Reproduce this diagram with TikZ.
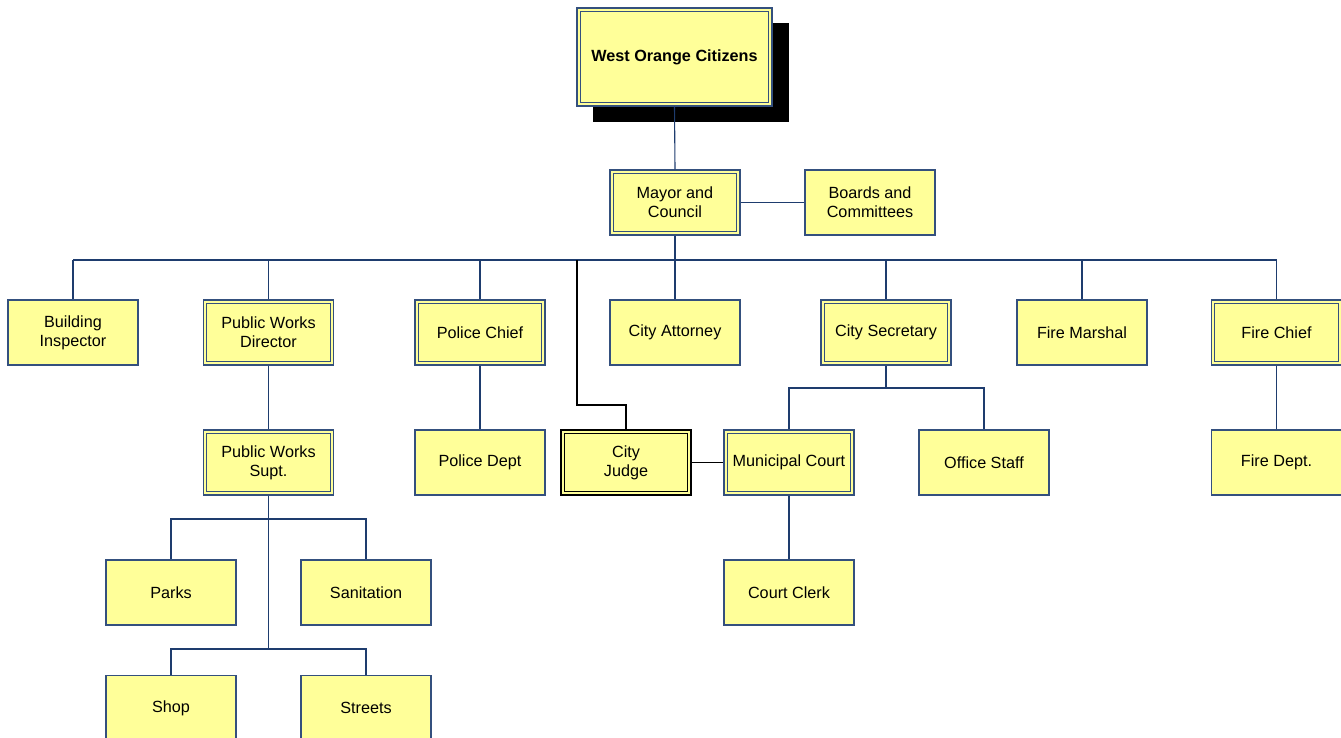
\documentclass[tikz,border=0pt]{standalone}
\usepackage{fontspec}
\setmainfont{Liberation Sans}
\begin{document}
\begin{tikzpicture}[x=1pt,y=-1pt,
  box/.style={draw=boxc, fill=boxf, line width=1.1pt, minimum width=130pt, minimum height=65pt,
    inner sep=0pt, align=center, font=\fontsize{16.2}{19}\selectfont, text=black},
  dbl/.style={box, draw=#1, path picture={
    \draw[#1, line width=1pt]
      ([shift={(3.2pt,-3.2pt)}]path picture bounding box.north west) rectangle
      ([shift={(-3.2pt,3.2pt)}]path picture bounding box.south east);}},
  dbl/.default=boxc,
  conn/.style={draw=linec, line width=1.1pt},
  bus/.style={draw=linec, line width=1.6pt},
  jconn/.style={draw=black, line width=1.1pt}]
\definecolor{boxf}{HTML}{FFFF99}
\definecolor{boxc}{HTML}{34507E}
\definecolor{linec}{HTML}{1E3C6E}
\useasboundingbox (0,0) rectangle (1341,738);
\clip (0,0) rectangle (1341,738);

% shadow and top box
\fill[black] (593,23) rectangle (789,122);
\node[dbl, minimum width=195pt, minimum height=98pt, font=\fontsize{16.2}{19}\selectfont\bfseries] (cit) at (674.5,57) {West Orange Citizens};

% level 1
\node[dbl] (mayor) at (675,202.5) {Mayor and\\Council};
\node[box] (boards) at (870,202.5) {Boards and\\Committees};

% level 2
\node[box] (bi)   at (73,332.5)   {Building\\Inspector};
\node[dbl] (pwd)  at (268.5,332.5) {Public Works\\Director};
\node[dbl] (pc)   at (480,332.5)  {Police Chief};
\node[box] (ca)   at (675,332.5)  {City Attorney};
\node[dbl] (cs)   at (886,332.5)  {City Secretary};
\node[box] (fm)   at (1082,332.5) {Fire Marshal};
\node[dbl] (fc)   at (1276.5,332.5) {Fire Chief};

% level 3
\node[dbl] (pws)  at (268.5,462.5) {Public Works\\Supt.};
\node[box] (pd)   at (480,462.5)  {Police Dept};
\node[dbl=black] (cj) at (626,462.5) {City\\Judge};
\node[dbl] (mc)   at (789,462.5)  {Municipal Court};
\node[box] (os)   at (984,462.5)  {Office Staff};
\node[box] (fd)   at (1276.5,462.5) {Fire Dept.};

% level 4
\node[box] (parks) at (171,592.5) {Parks};
\node[box] (san)   at (366,592.5) {Sanitation};
\node[box] (cc)    at (789,592.5) {Court Clerk};

% level 5
\node[box] (shop)    at (171,708) {Shop};
\node[box] (streets) at (366,708) {Streets};

% coordinates
\coordinate (busL) at (73,260);
\coordinate (busR) at (1276.5,260);
\coordinate (jb) at (577,260);
\coordinate (jk) at (577,405);
\coordinate (csb) at (886,388);
\coordinate (pwa) at (268.5,519);
\coordinate (pwb) at (268.5,649);

% connectors
\draw[conn] (cit.south) -- (mayor.north);
\draw[conn] (mayor.east) -- (boards.west);
\draw[bus] (mayor.south) -- (mayor.south |- busL);
\draw[bus] (busL) -- (busR);
\foreach \n in {bi,pwd,pc,ca,cs,fm,fc}{
  \draw[conn] (\n.north) -- (\n.north |- busL);
}
\draw[jconn] (jb) -- (jk) -| (cj.north);
\draw[jconn] (cj.east) -- (mc.west);
\draw[conn] (pc.south) -- (pd.north);
\draw[conn] (fc.south) -- (fd.north);
\draw[conn] (cs.south) -- (csb);
\draw[conn] (mc.north) |- (csb) -| (os.north);
\draw[conn] (mc.south) -- (cc.north);
\draw[conn] (pwd.south) -- (pws.north);
\draw[bus] (pws.south) -- (pwb);
\draw[conn] (parks.north) |- (pwa) -| (san.north);
\draw[conn] (shop.north) |- (pwb) -| (streets.north);
\end{tikzpicture}
\end{document}
